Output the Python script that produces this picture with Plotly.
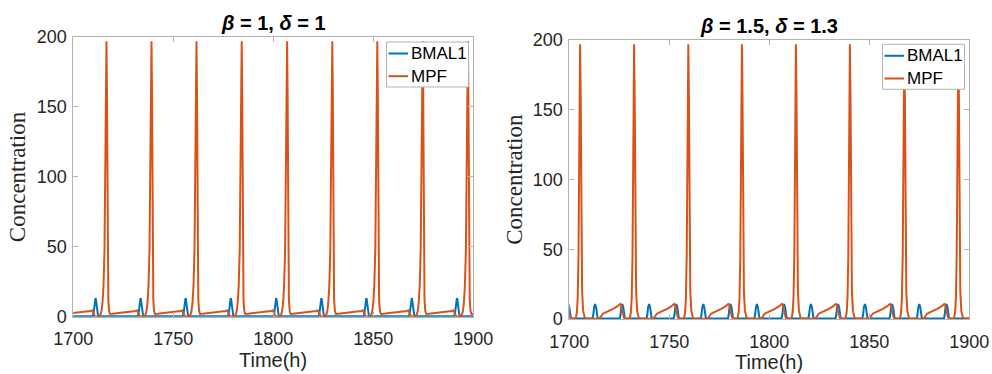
import plotly.graph_objects as go

# ---------------- data ----------------
# Left panel (beta = 1, delta = 1): MPF spike times (h)
left_mpf_peaks = [1694.0, 1716.6, 1739.1, 1761.6, 1784.2, 1806.9, 1829.5, 1852.0, 1874.7, 1897.3, 1919.9]
# one MPF cycle around a spike: offset from spike (h) and concentration
left_mpf_offsets = [-8.0, -7.6, -7.3, -6.9, -6.4, -5.9, -5.4, -4.2, -3.5, -3.0, -2.5, -2.0, -1.5, -1.0, -0.5, -0.2, 0.0,
                    0.25, 0.55, 0.9, 1.3, 1.8, 3.0, 6.0, 10.0, 14.0]
left_mpf_values = [4.1, 4.4, 4.6, 3.6, 1.8, 0.5, 0.1, 0.1, 0.3, 1.5, 4.0, 10.0, 22.0, 48.0, 110.0, 170.0, 197.0,
                   160.0, 60.0, 12.0, 4.0, 2.0, 2.1, 2.5, 3.1, 3.9]
# BMAL1 bump relative to the MPF spike
left_bmal_offsets = [-7.6, -6.8, -6.4, -6.0, -5.7, -5.5, -5.3, -5.0, -4.6, -4.2, -3.4]
left_bmal_values = [0.3, 0.5, 3.0, 9.0, 12.5, 13.3, 12.5, 9.0, 3.0, 0.5, 0.3]

# Right panel (beta = 1.5, delta = 1.3)
right_mpf_peaks = [1678.4, 1705.4, 1732.4, 1759.5, 1786.3, 1813.3, 1840.3, 1867.5, 1894.5, 1921.5]
right_mpf_offsets = [-3.0, -2.4, -2.0, -1.6, -1.2, -0.8, -0.4, 0.0, 0.3, 0.6, 1.0, 1.5, 2.2, 2.8, 9.5, 10.0, 10.6,
                     11.4, 12.5, 14.5, 16.5, 18.5, 19.5, 20.0, 20.4, 20.9, 21.4, 21.9, 22.4]
right_mpf_values = [0.2, 0.3, 1.5, 5.0, 15.0, 45.0, 120.0, 197.0, 160.0, 70.0, 20.0, 6.0, 1.5, 0.2, 0.2, 0.8, 2.5,
                    3.8, 4.6, 5.8, 7.3, 9.0, 10.2, 10.8, 10.5, 7.5, 3.5, 1.0, 0.2]
right_bmal_offsets = [6.2, 6.6, 7.0, 7.5, 8.0, 8.4, 8.8, 19.8, 20.2, 20.6, 21.1, 21.6, 22.0, 22.4]
right_bmal_values = [0.3, 3.0, 8.5, 10.8, 8.5, 3.0, 0.3, 0.3, 3.0, 8.5, 10.8, 8.5, 3.0, 0.3]

x_ticks = [1700, 1750, 1800, 1850, 1900]
y_ticks = [0, 50, 100, 150, 200]
titles = ["<i>β</i> = 1, <i>δ</i> = 1", "<i>β</i> = 1.5, <i>δ</i> = 1.3"]
series_names = ["BMAL1", "MPF"]

BLUE = "#0072BD"
ORANGE = "#D95319"
series_colors = [BLUE, ORANGE]


def build(peaks, offsets, values):
    pts = []
    for p in peaks:
        for o, v in zip(offsets, values):
            pts.append((p + o, v))
    pts.sort()
    return [a for a, _ in pts], [b for _, b in pts]


lbx, lby = build(left_mpf_peaks, left_bmal_offsets, left_bmal_values)
lmx, lmy = build(left_mpf_peaks, left_mpf_offsets, left_mpf_values)
rbx, rby = build(right_mpf_peaks, right_bmal_offsets, right_bmal_values)
rmx, rmy = build(right_mpf_peaks, right_mpf_offsets, right_mpf_values)

W, H = 992, 374
fig = go.Figure()
fig.add_trace(go.Scatter(x=lbx, y=lby, mode="lines", name=series_names[0], line=dict(color=BLUE, width=2),
                         xaxis="x", yaxis="y"))
fig.add_trace(go.Scatter(x=lmx, y=lmy, mode="lines", name=series_names[1], line=dict(color=ORANGE, width=2),
                         xaxis="x", yaxis="y"))
fig.add_trace(go.Scatter(x=rbx, y=rby, mode="lines", name=series_names[0], line=dict(color=BLUE, width=2),
                         xaxis="x2", yaxis="y2"))
fig.add_trace(go.Scatter(x=rmx, y=rmy, mode="lines", name=series_names[1], line=dict(color=ORANGE, width=2),
                         xaxis="x2", yaxis="y2"))

px_x = lambda p: p / W
px_y = lambda p: 1 - p / H

panels = [
    dict(x0=73.3, x1=473.3, y0=37.0, y1=316.7, leg=(386.5, 468.5, 42.0, 87.0)),
    dict(x0=569.3, x1=969.3, y0=40.0, y1=319.0, leg=(882.5, 964.5, 44.3, 89.3)),
]

axis_common = dict(showline=True, mirror="ticks", linecolor="#b3b3b3", linewidth=1, ticks="inside",
                   ticklen=5, tickcolor="#b3b3b3", showgrid=False, zeroline=False,
                   tickfont=dict(family="Liberation Sans", size=18, color="#262626"))

layout = dict(width=W, height=H, margin=dict(l=0, r=0, t=0, b=0, pad=0, autoexpand=False),
              plot_bgcolor="white", paper_bgcolor="white", showlegend=False)
for i, pn in enumerate(panels):
    sx = "" if i == 0 else "2"
    layout["xaxis" + sx] = dict(axis_common, domain=[px_x(pn["x0"]), px_x(pn["x1"])], range=[1700, 1900],
                                tickvals=x_ticks, anchor="y" + sx, ticklabelstandoff=6)
    layout["yaxis" + sx] = dict(axis_common, domain=[px_y(pn["y1"]), px_y(pn["y0"])], range=[0, 200],
                                tickvals=y_ticks, anchor="x" + sx, ticklabelstandoff=2)
fig.update_layout(**layout)

annotations = []
shapes = []
for i, pn in enumerate(panels):
    cx = (pn["x0"] + pn["x1"]) / 2
    annotations.append(dict(x=px_x(cx), y=px_y(pn["y0"] - 14), xref="paper", yref="paper", text="<b>" + titles[i] + "</b>",
                            showarrow=False, xanchor="center", yanchor="middle",
                            font=dict(family="Liberation Sans", size=20, color="#000000")))
    annotations.append(dict(x=px_x(cx), y=px_y(pn["y1"] + 43), xref="paper", yref="paper", text="Time(h)",
                            showarrow=False, xanchor="center", yanchor="middle",
                            font=dict(family="Liberation Sans", size=20, color="#262626")))
    annotations.append(dict(x=px_x(pn["x0"] - 55), y=px_y((pn["y0"] + pn["y1"]) / 2), xref="paper", yref="paper",
                            text="Concentration", textangle=-90, showarrow=False, xanchor="center", yanchor="middle",
                            font=dict(family="Liberation Serif", size=23, color="#262626")))
    # legend box (drawn like MATLAB's legend)
    lx0, lx1, ly0, ly1 = pn["leg"]
    shapes.append(dict(type="rect", xref="paper", yref="paper", x0=px_x(lx0), x1=px_x(lx1), y0=px_y(ly1),
                       y1=px_y(ly0), fillcolor="white", line=dict(color="#b3b3b3", width=1), layer="above"))
    for k in range(2):
        yc = ly0 + 11.5 + k * 22.7
        shapes.append(dict(type="line", xref="paper", yref="paper", x0=px_x(lx0 + 2), x1=px_x(lx0 + 21.5),
                           y0=px_y(yc), y1=px_y(yc), line=dict(color=series_colors[k], width=2), layer="above"))
        annotations.append(dict(x=px_x(lx0 + 22.5), y=px_y(yc), xref="paper", yref="paper", text=series_names[k],
                                showarrow=False, xanchor="left", yanchor="middle",
                                font=dict(family="Liberation Sans", size=17, color="#000000")))
fig.update_layout(annotations=annotations, shapes=shapes)

fig.write_html("out.html")
